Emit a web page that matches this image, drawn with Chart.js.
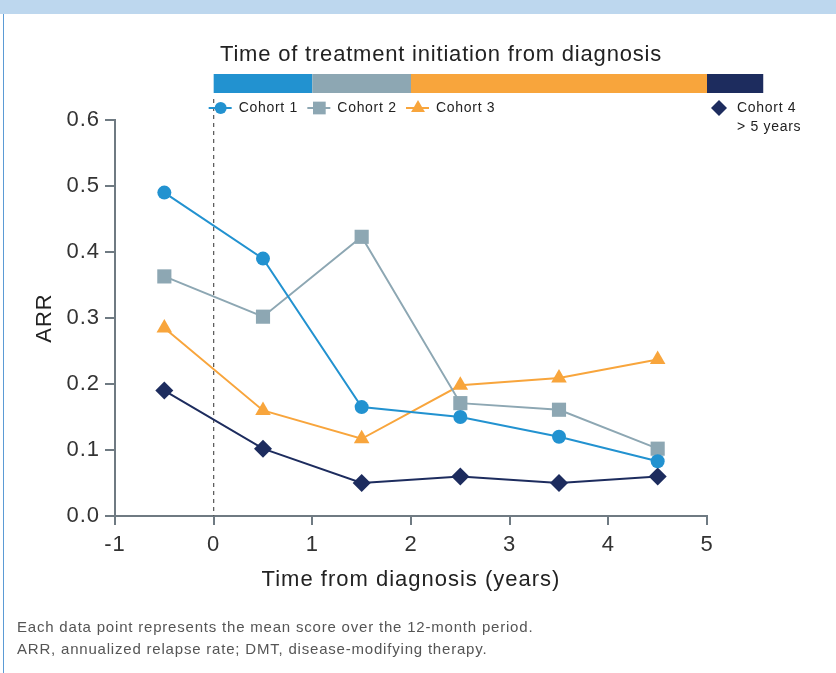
<!DOCTYPE html>
<html>
<head>
<meta charset="utf-8">
<script src="https://cdn.jsdelivr.net/npm/chart.js@4.4.0/dist/chart.umd.min.js"></script>
<style>
  html, body { margin: 0; padding: 0; background: #fff; }
  body { width: 836px; height: 673px; position: relative; overflow: hidden;
         font-family: "Liberation Sans", Arial, sans-serif; }
  #band { position: absolute; left: 0; top: 0; width: 836px; height: 14px; background: #bdd7ee; }
  #edge { position: absolute; left: 3px; top: 14px; width: 1px; height: 659px; background: #5b9bd5; }
  #chart { position: absolute; left: 0; top: 0; }
  #notes { position: absolute; left: 17px; top: 616px; font-size: 15px; line-height: 22px;
           letter-spacing: 0.8px; color: #555; }
</style>
</head>
<body>
<div id="band"></div>
<div id="edge"></div>
<canvas id="chart" width="836" height="673"></canvas>
<div id="notes">Each data point represents the mean score over the 12-month period.<br>ARR, annualized relapse rate; DMT, disease-modifying therapy.</div>
<script>
// years from diagnosis (midpoints)
const years = [-0.5, 0.5, 1.5, 2.5, 3.5, 4.5];
const cohort1 = [0.49, 0.39, 0.165, 0.15, 0.12, 0.083];
const cohort2 = [0.363, 0.302, 0.423, 0.171, 0.161, 0.102];
const cohort3 = [0.285, 0.16, 0.117, 0.198, 0.209, 0.237];
const cohort4 = [0.19, 0.102, 0.05, 0.06, 0.05, 0.06];

const cohortNames = ["Cohort 1", "Cohort 2", "Cohort 3", "Cohort 4"];
const cohortColors = ["#2292d0", "#8da7b3", "#f8a53c", "#1d2c5e"];
const cohortShapes = ["circle", "rect", "triangle", "rectRot"];
const cohortSizes = [7, 10, 9, 9];

// treatment initiation windows (years from diagnosis)
const windowStart = [0, 1, 2, 5];
const windowEnd = [1, 2, 5, 5.57];

const xTicks = [-1, 0, 1, 2, 3, 4, 5];

const series = [cohort1, cohort2, cohort3, cohort4];

const datasets = series.map((vals, i) => ({
  label: cohortNames[i],
  data: vals.map((v, j) => ({ x: years[j], y: v })),
  borderColor: cohortColors[i],
  backgroundColor: cohortColors[i],
  borderWidth: 2,
  pointStyle: cohortShapes[i],
  pointRadius: cohortSizes[i],
  pointBorderWidth: 0,
  pointHoverRadius: cohortSizes[i],
  tension: 0
}));

const axisColor = "#6f7a82";
const font = "Liberation Sans, Arial, sans-serif";

const overlay = {
  id: "overlay",
  beforeDraw(chart) {
    // the original type is wide, so space the axis text out a bit
    chart.ctx.letterSpacing = "1px";
  },
  beforeDatasetsDraw(chart) {
    const { ctx, scales: { x, y } } = chart;
    ctx.save();
    ctx.strokeStyle = "#555";
    ctx.lineWidth = 1.2;
    ctx.setLineDash([4, 4]);
    ctx.beginPath();
    ctx.moveTo(x.getPixelForValue(0), 99);
    ctx.lineTo(x.getPixelForValue(0), y.getPixelForValue(0));
    ctx.stroke();
    ctx.restore();
  },
  afterDatasetsDraw(chart) {
    const { ctx, scales: { x } } = chart;
    ctx.save();
    // heading
    ctx.fillStyle = "#222";
    ctx.font = "22px " + font;
    ctx.letterSpacing = "0.8px";
    ctx.textAlign = "center";
    ctx.textBaseline = "middle";
    ctx.fillText("Time of treatment initiation from diagnosis", 441, 55);

    // window bar
    windowStart.forEach((s, i) => {
      const a = x.getPixelForValue(s);
      const b = x.getPixelForValue(windowEnd[i]);
      ctx.fillStyle = cohortColors[i];
      ctx.fillRect(a, 74, b - a, 19);
    });

    // legend
    const ly = 108;
    ctx.font = "14px " + font;
    ctx.letterSpacing = "0.7px";
    ctx.textAlign = "left";
    windowStart.forEach((s, i) => {
      const cx = x.getPixelForValue(s) + (i === 3 ? 12 : 7);
      ctx.strokeStyle = cohortColors[i];
      ctx.fillStyle = cohortColors[i];
      if (i < 3) {
        ctx.lineWidth = 2;
        ctx.beginPath();
        ctx.moveTo(cx - 12, ly);
        ctx.lineTo(cx + 11, ly);
        ctx.stroke();
      }
      Chart.helpers.drawPoint(ctx, {
        pointStyle: cohortShapes[i], radius: cohortSizes[i] - 1, borderWidth: 0
      }, cx, ly);
      ctx.fillStyle = "#222";
      ctx.fillText(cohortNames[i], cx + 18, ly);
      if (i === 3) ctx.fillText("> 5 years", cx + 18, ly + 19);
    });
    ctx.restore();
  }
};

new Chart(document.getElementById("chart"), {
  type: "line",
  data: { datasets },
  options: {
    responsive: false,
    animation: false,
    layout: { padding: { top: 120, right: 129, bottom: 76, left: 0 } },
    plugins: { legend: { display: false }, tooltip: { enabled: false } },
    scales: {
      x: {
        type: "linear",
        min: -1,
        max: 5,
        afterFit(s) { s.height = 81; },
        afterBuildTicks(s) { s.ticks = xTicks.map(v => ({ value: v })); },
        grid: { drawOnChartArea: false, drawTicks: true, tickLength: 9, color: axisColor, lineWidth: 2 },
        border: { display: true, color: axisColor, width: 2 },
        ticks: { color: "#333", font: { family: font, size: 22 }, padding: 7 },
        title: { display: true, text: "Time from diagnosis (years)", color: "#222",
                 font: { family: font, size: 22 }, padding: { top: 0, bottom: 4 } }
      },
      y: {
        min: 0,
        max: 0.6,
        afterFit(s) { s.width = 115; },
        grid: { drawOnChartArea: false, drawTicks: true, tickLength: 10, color: axisColor, lineWidth: 2 },
        border: { display: true, color: axisColor, width: 2 },
        ticks: { stepSize: 0.1, color: "#333", font: { family: font, size: 22 }, padding: 5,
                 callback: v => v.toFixed(1) },
        title: { display: true, text: "ARR", color: "#222",
                 font: { family: font, size: 22 }, padding: { top: 32, bottom: 0 } }
      }
    }
  },
  plugins: [overlay]
});
</script>
</body>
</html>
